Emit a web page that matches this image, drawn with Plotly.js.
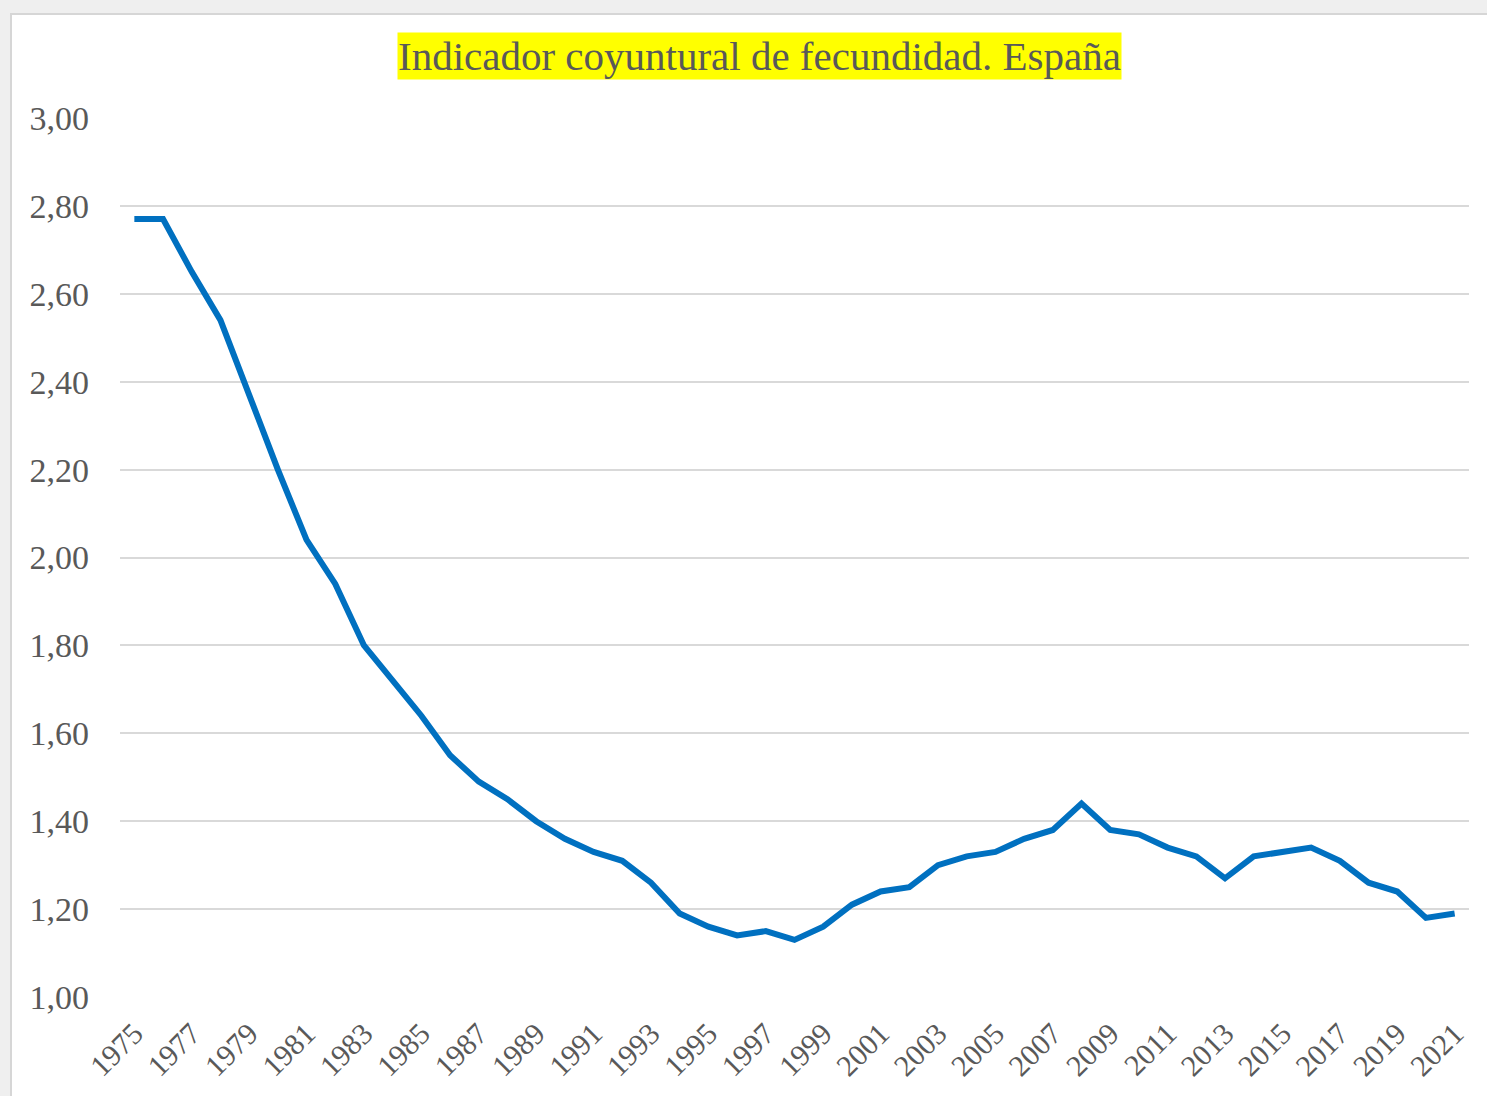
<!DOCTYPE html>
<html>
<head>
<meta charset="utf-8">
<script src="https://cdn.plot.ly/plotly-3.0.1.min.js"></script>
<style>
  html, body { margin: 0; padding: 0; width: 1487px; height: 1096px; overflow: hidden;
    background: #efefef; }
  #frame { position: absolute; left: 10px; top: 13px; width: 1477px; height: 1083px;
    background: #ffffff; border-left: 2px solid #d6d6d6; border-top: 2px solid #d6d6d6; box-sizing: border-box; }
  #chart { position: absolute; left: 0; top: 0; width: 1475px; height: 1081px; }
</style>
</head>
<body>
<div id="frame"><div id="chart"></div></div>
<script>
const years = ["1975","1976","1977","1978","1979","1980","1981","1982","1983","1984","1985","1986","1987","1988","1989","1990","1991","1992","1993","1994","1995","1996","1997","1998","1999","2000","2001","2002","2003","2004","2005","2006","2007","2008","2009","2010","2011","2012","2013","2014","2015","2016","2017","2018","2019","2020","2021"];
const fertility = [2.77,2.77,2.65,2.54,2.37,2.20,2.04,1.94,1.80,1.72,1.64,1.55,1.49,1.45,1.40,1.36,1.33,1.31,1.26,1.19,1.16,1.14,1.15,1.13,1.16,1.21,1.24,1.25,1.30,1.32,1.33,1.36,1.38,1.44,1.38,1.37,1.34,1.32,1.27,1.32,1.33,1.34,1.31,1.26,1.24,1.18,1.19];
const yTicks = [1.0,1.2,1.4,1.6,1.8,2.0,2.2,2.4,2.6,2.8,3.0];
const yTickText = ["1,00","1,20","1,40","1,60","1,80","2,00","2,20","2,40","2,60","2,80","3,00"];
const xTickYears = years.filter((y, i) => i % 2 === 0);
const titleText = "Indicador coyuntural de fecundidad. España";

const serif = "Liberation Serif, Times New Roman, serif";

const trace = {
  x: years, y: fertility, type: "scatter", mode: "lines",
  line: { color: "#0070C0", width: 6, shape: "linear" },
  hoverinfo: "x+y"
};

const layout = {
  width: 1475, height: 1081,
  margin: { l: 108, r: 18, t: 103, b: 99 },
  paper_bgcolor: "#ffffff", plot_bgcolor: "#ffffff",
  showlegend: false,
  xaxis: {
    type: "category", range: [-0.5, years.length - 0.5],
    tickmode: "array", tickvals: xTickYears, ticktext: xTickYears,
    tickangle: -45, showgrid: false, zeroline: false, showline: false,
    ticks: "", ticklabelstandoff: 12,
    tickfont: { family: serif, size: 30, color: "#595959" }
  },
  yaxis: {
    range: [1.0, 3.0], tickmode: "array", tickvals: yTicks, ticktext: yTickText,
    showgrid: true, gridcolor: "#d9d9d9", gridwidth: 2, zeroline: false, showline: false,
    ticks: "", ticklabelstandoff: 30,
    tickfont: { family: serif, size: 34, color: "#595959" }
  },
  annotations: [{
    text: titleText, xref: "paper", yref: "paper", x: 0.474, y: 1.071,
    xanchor: "center", yanchor: "middle", showarrow: false,
    bgcolor: "#ffff00", borderpad: 0,
    font: { family: serif, size: 41, color: "#595959" }
  }]
};

Plotly.newPlot("chart", [trace], layout, { displayModeBar: false, staticPlot: true });
</script>
</body>
</html>
